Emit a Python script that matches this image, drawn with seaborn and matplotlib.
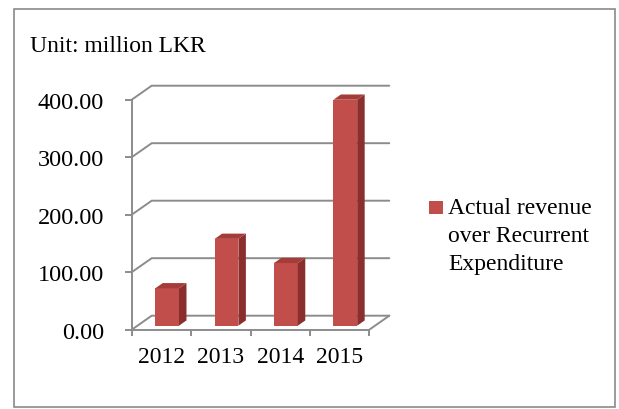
import matplotlib
matplotlib.use("Agg")
import matplotlib.pyplot as plt
import seaborn as sns
import pandas as pd
from matplotlib.patches import Polygon, Rectangle

# ---------------- data ----------------
years = ["2012", "2013", "2014", "2015"]
values = [65.0, 151.0, 109.0, 393.0]
y_ticks = [0, 100, 200, 300, 400]
series_label = "Actual revenue\nover Recurrent\nExpenditure"
unit_label = "Unit: million LKR"

# ---------------- style ----------------
sns.set_theme(style="white")
plt.rcParams["font.family"] = ["Liberation Serif", "DejaVu Serif"]

front_c = "#C24E4B"
side_c = "#8A2F2D"
top_c = "#A53C39"
grid_c = "#8C8C8C"
border_c = "#8A8A8A"

W, H = 619, 410
fig = plt.figure(figsize=(W / 100, H / 100), dpi=100, facecolor="white")
ax = fig.add_axes([131.7 / W, 1 - 330.7 / H, 237.6 / W, 230 / H])
ax.set_facecolor("none")

df = pd.DataFrame({"year": years, "value": values})
sns.barplot(data=df, x="year", y="value", color=front_c, width=0.4,
            saturation=1, errorbar=None, linewidth=0, ax=ax, zorder=3)

ax.set_xlim(-0.5, len(years) - 0.5)
ax.set_ylim(y_ticks[0], y_ticks[-1])

# pseudo-3D depth (pixel offsets converted to data units)
xpu = 237.6 / len(years)
ypu = 230 / (y_ticks[-1] - y_ticks[0])
wall_dx, wall_dy = 20 / xpu, 14 / ypu
bar_fx, bar_fy = 5.7 / xpu, 4.0 / ypu
bar_dx, bar_dy = 7.5 / xpu, 5.25 / ypu

x_lo, x_hi = ax.get_xlim()

# back wall gridlines + floor
for v in y_ticks:
    ax.plot([x_lo, x_lo + wall_dx, x_hi + wall_dx], [v, v + wall_dy, v + wall_dy],
            color=grid_c, lw=1.4, clip_on=False, zorder=1, solid_joinstyle="miter")
ax.plot([x_hi, x_hi + wall_dx], [0, wall_dy], color=grid_c, lw=1.4, clip_on=False, zorder=1)

# bars: move into the depth plane and add side/top faces
for p in list(ax.patches):
    p.set_x(p.get_x() + bar_fx)
    p.set_y(p.get_y() + bar_fy)
    p.set_clip_on(False)
    x0 = p.get_x()
    x1 = x0 + p.get_width()
    y0 = p.get_y()
    y1 = y0 + p.get_height()
    side = Polygon([(x1, y0), (x1 + bar_dx, y0 + bar_dy), (x1 + bar_dx, y1 + bar_dy), (x1, y1)],
                   closed=True, fc=side_c, ec="none", clip_on=False, zorder=3)
    top = Polygon([(x0, y1), (x1, y1), (x1 + bar_dx, y1 + bar_dy), (x0 + bar_dx, y1 + bar_dy)],
                  closed=True, fc=top_c, ec="none", clip_on=False, zorder=3)
    ax.add_patch(side)
    ax.add_patch(top)

# axes / ticks
ax.set_xlabel("")
ax.set_ylabel("")
for s in ["top", "right"]:
    ax.spines[s].set_visible(False)
for s in ["left", "bottom"]:
    ax.spines[s].set_color(grid_c)
    ax.spines[s].set_linewidth(1.4)
    ax.spines[s].set_zorder(2)

ax.set_yticks(y_ticks)
ax.set_yticklabels([f"{v:.2f}" for v in y_ticks])
ax.tick_params(axis="y", which="major", left=True, length=5, width=1.4, color=grid_c,
               pad=15, labelsize=17.5, labelcolor="black", direction="out")

ax.set_xticks(range(len(years)))
ax.set_xticklabels(years)
ax.tick_params(axis="x", which="major", length=0, pad=12, labelsize=17, labelcolor="black")
ax.set_xticks([i - 0.5 for i in range(len(years) + 1)], minor=True)
ax.tick_params(axis="x", which="minor", bottom=True, length=4, width=1.4, color=grid_c,
               direction="out")
ax.grid(False)

# unit label
fig.text(30 / W, 1 - 51.7 / H, unit_label, fontsize=17, ha="left", va="baseline", color="black")

# legend (manual, to keep the marker on the first line)
fig.patches.append(Rectangle((429 / W, 1 - 215 / H), 13.5 / W, 13.3 / H,
                             transform=fig.transFigure, fc=front_c, ec="none"))
fig.text(448 / W, 1 - 270 / H, series_label, fontsize=17, ha="left", va="baseline",
         linespacing=1.44, color="black")

# outer border
fig.patches.append(Rectangle((13.5 / W, 1 - 408 / H), (615 - 13.5) / W, (408 - 9.5) / H,
                             transform=fig.transFigure, fill=False, ec=border_c, lw=1.2))

fig.savefig("out.png", dpi=100, facecolor="white")
